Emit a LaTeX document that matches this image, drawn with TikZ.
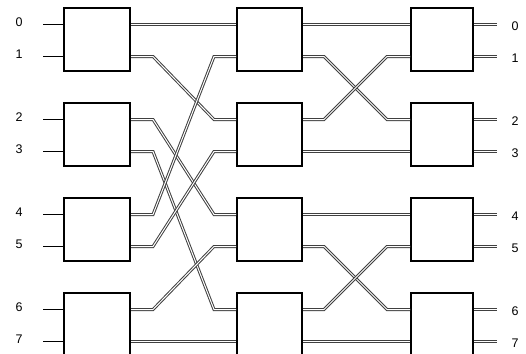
\documentclass[tikz,border=0pt]{standalone}
\usepackage{fontspec}
\setmainfont{Liberation Sans}
\usetikzlibrary{calc}
\begin{document}
\begin{tikzpicture}[x=1pt,y=-1pt,
  box/.style={draw=black,line width=2pt,minimum height=63pt,inner sep=0pt,fill=white},
  wire/.style={draw=black!75,line width=1pt,double=white,double distance=1pt},
  inwire/.style={draw=black,line width=1pt},
  lbl/.style={font=\fontsize{12.5}{12.5}\selectfont,inner sep=0pt}]
\useasboundingbox (0,0) rectangle (526,353);
\clip (0,0) rectangle (526,353);
% switch boxes
\foreach \c/\x/\w in {1/97/66,2/269.5/65,3/442/62}{
  \foreach \r in {0,1,2,3}{
    \node[box,minimum width=\w pt] (b\c\r) at (\x, 39.5+95*\r) {};
    \coordinate (b\c\r-i0) at ($(b\c\r.west)+(0,-15)$);
    \coordinate (b\c\r-i1) at ($(b\c\r.west)+(0,17)$);
    \coordinate (b\c\r-o0) at ($(b\c\r.east)+(0,-15)$);
    \coordinate (b\c\r-o1) at ($(b\c\r.east)+(0,17)$);
  }
}
% inputs and outputs
\foreach \r in {0,1,2,3}{
  \foreach \p in {0,1}{
    \pgfmathtruncatemacro{\j}{2*\r+\p}
    \coordinate (s\j) at ($(b1\r-i\p)+(-20,0)$);
    \node[lbl] (l\j) at ($(b1\r-i\p)+(-44,-2)$) {\j};
    \draw[inwire] (s\j) -- (b1\r-i\p);
    \coordinate (t\j) at ($(b3\r-o\p)+(23,0)$);
    \node[lbl] (r\j) at ($(b3\r-o\p)+(41,2)$) {\j};
    \draw[wire] (b3\r-o\p) -- (t\j);
  }
}
% stage 1 -> stage 2 (perfect shuffle)
\foreach \a/\p/\b/\q in {0/0/0/0,0/1/1/0,1/0/2/0,1/1/3/0,2/0/0/1,2/1/1/1,3/0/2/1,3/1/3/1}{
  \draw[wire] (b1\a-o\p) -- ++(22,0) -- ($(b2\b-i\q)+(-22,0)$) -- (b2\b-i\q);
}
% stage 2 -> stage 3
\foreach \a/\p/\b/\q in {0/0/0/0,0/1/1/0,1/0/0/1,1/1/1/1,2/0/2/0,2/1/3/0,3/0/2/1,3/1/3/1}{
  \draw[wire] (b2\a-o\p) -- ++(21,0) -- ($(b3\b-i\q)+(-23,0)$) -- (b3\b-i\q);
}
\end{tikzpicture}
\end{document}
